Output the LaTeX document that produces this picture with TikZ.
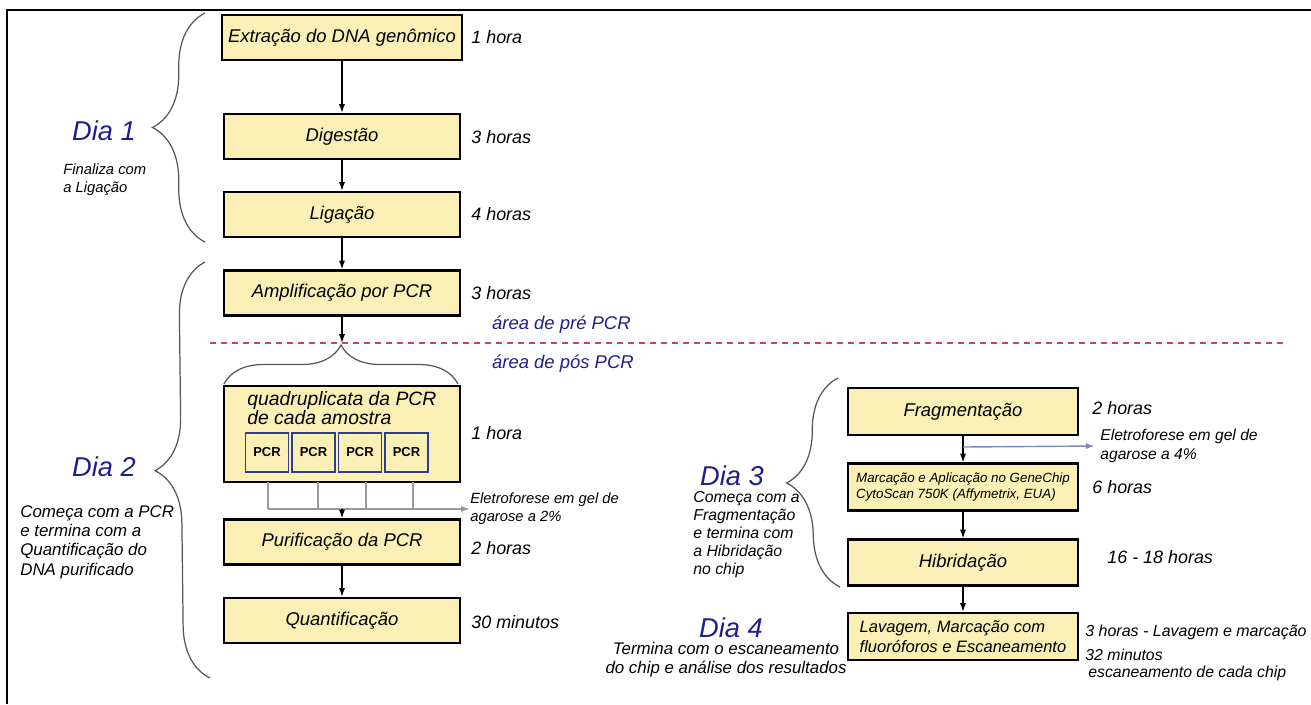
\documentclass[tikz,border=0pt]{standalone}
\usepackage{fontspec}
\setmainfont{Liberation Sans}
\usepackage{tikz}
\usetikzlibrary{arrows.meta,positioning,calc,decorations.pathreplacing}
\definecolor{boxyellow}{HTML}{FAF0B5}
\definecolor{diablue}{HTML}{1E1E8C}
\definecolor{pcrblue}{HTML}{2E3F8C}
\definecolor{dashred}{HTML}{C8465E}
\definecolor{eletrogray}{HTML}{9A9A9A}
\definecolor{eletroblue}{HTML}{8087BA}
\definecolor{bracegray}{HTML}{555555}
\tikzset{
  etapa/.style={draw, line width=1.3pt, fill=boxyellow, minimum width=4.72cm, minimum height=0.9cm, font=\fontsize{10.5}{12}\selectfont\itshape},
  tempo/.style={anchor=west, inner sep=0pt, font=\fontsize{10.2}{12}\selectfont\itshape},
  dia/.style={text=diablue, inner sep=0pt, font=\fontsize{15.5}{18}\selectfont\itshape},
  nota/.style={align=left, inner sep=0pt, anchor=north west},
  chave/.style={decorate, decoration={brace, amplitude=1.05cm}, line width=0.7pt, draw=bracegray},
  pcrbox/.style={draw=pcrblue, line width=1.1pt, minimum width=0.86cm, minimum height=0.78cm, font=\fontsize{7.4}{8}\selectfont\bfseries},
  seta/.style={-{Latex[length=5pt,width=3.5pt]}, line width=0.7pt},
}
\begin{document}
\begin{tikzpicture}[x=0.02cm, y=-0.02cm]
    \useasboundingbox (0,0) rectangle (1311,704);
    \draw[line width=1.6pt] (7,704) -- (7,10) -- (1311,10);

    \node[etapa] (extr) at (342,37.5) {Extração do DNA genômico};
    \node[etapa] (dig) at (342,136.5) {Digestão};
    \node[etapa] (lig) at (342,214.5) {Ligação};
    \node[etapa] (ampl) at (342,293) {Amplificação por PCR};
    \node[etapa, minimum height=1.92cm] (quad) at (342,434) {};
    \node[nota, font=\fontsize{11}{11}\selectfont\itshape] (quadtxt) at (247,391) {quadruplicata da PCR\\de cada amostra};
    \foreach \i in {0,...,3}
        \node[pcrbox] (pcr\i) at (267+46.5*\i,452.5) {PCR};
    \node[etapa] (puri) at (342,542) {Purificação da PCR};
    \node[etapa] (quant) at (342,620.5) {Quantificação};

    \node[tempo] (t1) at (471,37) {1 hora};
    \node[tempo] (t2) at (471,137) {3 horas};
    \node[tempo] (t3) at (471,214) {4 horas};
    \node[tempo] (t4) at (471,293) {3 horas};
    \node[tempo] (t5) at (471,433) {1 hora};
    \node[tempo] (t6) at (471,548) {2 horas};
    \node[tempo] (t7) at (471,622) {30 minutos};

    \draw[seta] (extr) -- (dig);
    \draw[seta] (dig) -- (lig);
    \draw[seta] (lig) -- (ampl);
    \coordinate (corte) at (342,343);
    \draw[seta] (ampl) -- (corte);
    \draw[dashred, line width=1.1pt, dash pattern=on 0.12cm off 0.1cm] (210,343) -- (1285,343);
    \node[anchor=west, text=diablue, font=\fontsize{10.5}{12}\selectfont\itshape] (pre) at (486,325) {área de pré PCR};
    \node[anchor=west, text=diablue, font=\fontsize{10.5}{12}\selectfont\itshape] (pos) at (486,364) {área de pós PCR};
    \draw[chave, decoration={amplitude=0.78cm}] (224,384) -- (458,384);

    \node[nota, anchor=west, font=\fontsize{8.4}{10.3}\selectfont\itshape] (eletro2) at (470,509) {Eletroforese em gel de\\agarose a 2\%};
    \foreach \x in {268,318,366,413}
        \draw[eletrogray, line width=0.8pt] (\x,482) -- (\x,509);
    \draw[seta, eletrogray, line width=0.8pt] (268,509) -- (eletro2.west);
    \coordinate (juncao) at (342,509);
    \draw[seta] (juncao) -- (puri);
    \draw[seta] (puri) -- (quant);

    \draw[chave] (205,242) -- (205,13);
    \node[dia] (dia1) at (104,131) {Dia 1};
    \node[nota, font=\fontsize{8.4}{10.3}\selectfont\itshape] (nota1) at (63,163) {Finaliza com\\a Ligação};

    \draw[chave] (210,678) -- (205,262);
    \node[dia] (dia2) at (104,467) {Dia 2};
    \node[nota, font=\fontsize{9.6}{11}\selectfont\itshape] (nota2) at (20,505) {Começa com a PCR\\e termina com a\\Quantificação do\\DNA purificado};

    \node[etapa, minimum width=4.6cm, minimum height=0.94cm] (frag) at (963,411.5) {Fragmentação};
    \node[etapa, minimum width=4.6cm, minimum height=0.94cm, align=left, font=\fontsize{7.6}{9.5}\selectfont\itshape] (marc) at (963,487) {Marcação e Aplicação no GeneChip\\CytoScan 750K (Affymetrix, EUA)};
    \node[etapa, minimum width=4.6cm, minimum height=0.92cm] (hib) at (963,562.5) {Hibridação};
    \node[etapa, minimum width=4.6cm, minimum height=0.94cm, align=left, font=\fontsize{9.4}{11}\selectfont\itshape] (lav) at (963,636.5) {Lavagem, Marcação com\\fluoróforos e Escaneamento};

    \draw[seta] (frag) -- (marc);
    \draw[seta] (marc) -- (hib);
    \draw[seta] (hib) -- (lav);
    \node[nota, anchor=west, font=\fontsize{8.9}{10.5}\selectfont\itshape] (eletro4) at (1100,446) {Eletroforese em gel de\\agarose a 4\%};
    \coordinate (ramo) at (963,447);
    \draw[seta, eletroblue, line width=0.8pt] (ramo) -- ([xshift=-3pt]eletro4.west);

    \node[tempo] (t8) at (1092,408) {2 horas};
    \node[tempo] (t9) at (1092,487) {6 horas};
    \node[tempo] (t10) at (1107,557) {16 - 18 horas};
    \node[tempo, font=\fontsize{9.1}{11}\selectfont\itshape] (t11) at (1085,632) {3 horas - Lavagem e marcação};
    \node[tempo, font=\fontsize{9}{11}\selectfont\itshape] (t12) at (1085,655) {32 minutos};
    \node[tempo, font=\fontsize{9}{11}\selectfont\itshape] (t13) at (1088,673) {escaneamento de cada chip};

    \draw[chave] (840,587) -- (838,378);
    \node[dia] (dia3) at (732,476) {Dia 3};
    \node[nota, font=\fontsize{9}{10.3}\selectfont\itshape] (nota3) at (693,491) {Começa com a\\Fragmentação\\e termina com\\a Hibridação\\no chip};

    \node[dia] (dia4) at (731,628) {Dia 4};
    \node[align=center, inner sep=0pt, font=\fontsize{9.6}{10.8}\selectfont\itshape] (nota4) at (726,660) {Termina com o escaneamento\\do chip e análise dos resultados};
\end{tikzpicture}
\end{document}
